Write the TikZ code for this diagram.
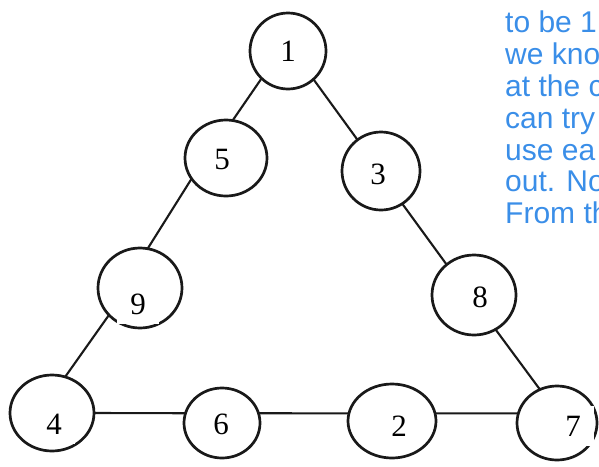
\documentclass[tikz,border=0pt]{standalone}
\usepackage{fontspec}
\setmainfont{Liberation Serif}
\newfontfamily\parafont{Liberation Sans}
\usetikzlibrary{shapes.geometric}
\definecolor{txtblue}{RGB}{58,142,232}
\begin{document}
\begin{tikzpicture}[x=1pt,y=-1pt,
  ring/.style={draw=black!90, line width=2.7pt, ellipse, inner sep=0pt, outer sep=0pt},
  edge/.style={draw=black!90, line width=2.1pt},
  num/.style={fill=white, inner sep=0pt, minimum width=42pt, minimum height=40pt, font=\fontsize{31}{31}\selectfont},
  para/.style={anchor=base west, inner sep=0pt, text=txtblue, font=\parafont\fontsize{30}{31.8}\selectfont}]
\useasboundingbox (0,0) rectangle (599,466);
\clip (0,0) rectangle (599,466);
% circles
\node[ring, minimum width=76pt, minimum height=76pt] (c1) at (288,51) {};
\node[ring, minimum width=82pt, minimum height=76pt] (c5) at (226,158) {};
\node[ring, minimum width=78pt, minimum height=78pt] (c3) at (381,171) {};
\node[ring, minimum width=84pt, minimum height=80pt] (c9) at (140,288) {};
\node[ring, minimum width=84pt, minimum height=80pt] (c8) at (474,295) {};
\node[ring, minimum width=84pt, minimum height=76pt] (c4) at (52,413) {};
\node[ring, minimum width=76pt, minimum height=70pt] (c6) at (222,423) {};
\node[ring, minimum width=88pt, minimum height=74pt] (c2) at (392,421) {};
\node[ring, minimum width=80pt, minimum height=74pt] (c7) at (557,423) {};
% connectors
\draw[edge] (c1.226) -- (c5.80);
\draw[edge] (c1.312) -- (c3.127);
\draw[edge] (c5.211) -- (c9.79);
\draw[edge] (c9.221) -- (c4.70);
\draw[edge] (c3.303) -- (c8.132);
\draw[edge] (c8.302) -- (c7.117);
\draw[edge] (c4.0) -- (c6.165);
\draw[edge] (c6.15) -- (c2.170);
\draw[edge] (c2.10) -- (c7.166);
% numbers
\node[num] (t1) at (288,51) {1};
\node[num] (t5) at (222,159) {5};
\node[num] (t3) at (378,174) {3};
\node[num] (t9) at (138,304) {9};
\node[num] (t8) at (480,297) {8};
\node[num] (t4) at (54,424) {4};
\node[num] (t6) at (221,424) {6};
\node[num] (t2) at (399,426) {2};
\node[num] (t7) at (573,426) {7};
% blue text
\node[para] (l1) at (505,32) {to be 1};
\node[para] (l2) at (505,64) {we kno};
\node[para] (l3) at (505,96) {at the c};
\node[para] (l4) at (505,128) {can try};
\node[para] (l5) at (505,160) {use ea};
\node[para] (l6) at (505,191) {out. No};
\node[para] (l7) at (505,223) {From th};
\end{tikzpicture}
\end{document}
